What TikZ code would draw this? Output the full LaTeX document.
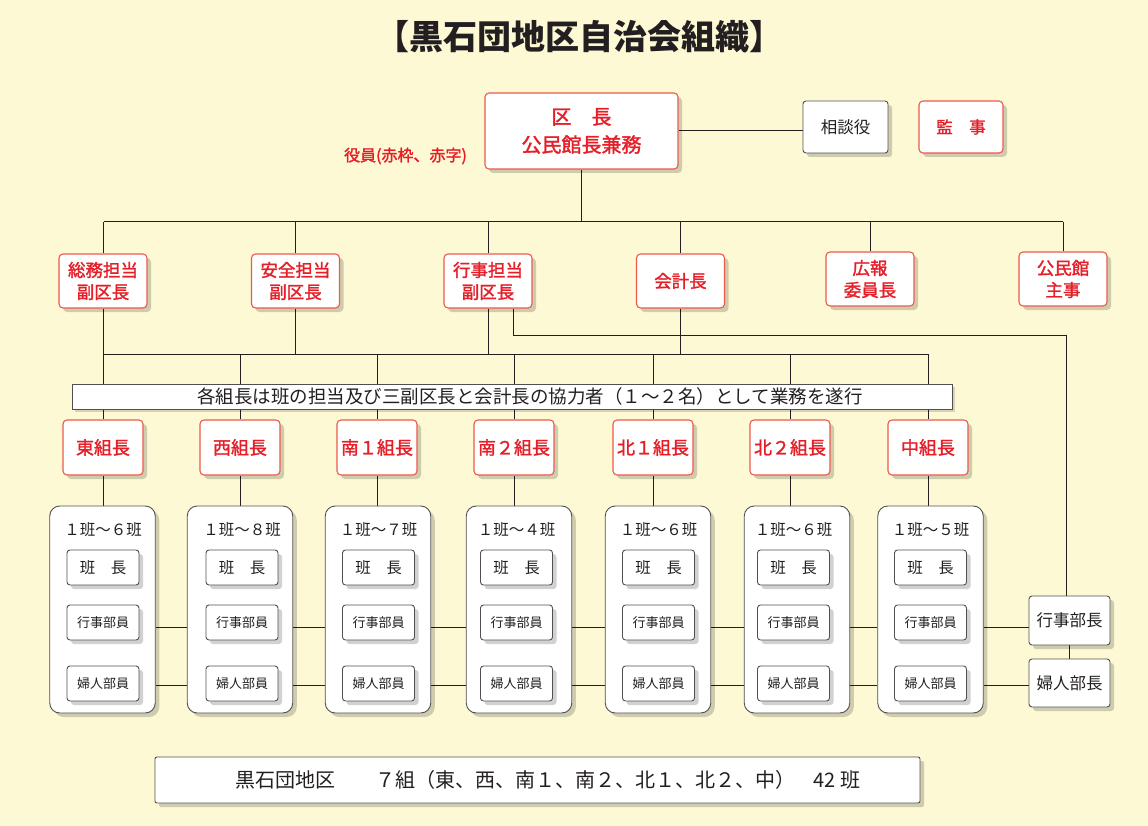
\documentclass[tikz,border=0pt]{standalone}
\usepackage{fontspec}
\setmainfont{Noto Sans CJK JP}
\newfontfamily\redjp[FakeBold=1.6]{Noto Sans CJK JP}
\usetikzlibrary{shadows,calc}
\definecolor{bgyellow}{RGB}{253,249,213}
\definecolor{txtred}{RGB}{230,30,40}
\definecolor{boxred}{RGB}{236,90,75}
\definecolor{boxgray}{RGB}{80,80,80}
\definecolor{txtdark}{RGB}{35,31,32}
\pgfdeclarelayer{bg}
\pgfdeclarelayer{lines}
\pgfsetlayers{bg,lines,main}
\tikzset{
  shad/.style={drop shadow={shadow xshift=4pt,shadow yshift=-4pt,fill=black,opacity=0.18}},
  redbox/.style={draw=boxred,line width=1.1pt,fill=white,rounded corners=4pt,text=txtred,
    align=center,inner sep=0pt,shad},
  graybox/.style={draw=boxgray,line width=0.9pt,fill=white,rounded corners=3pt,text=txtdark,
    align=center,inner sep=0pt,shad},
  groupbox/.style={draw=boxgray,line width=0.9pt,fill=white,rounded corners=10pt,inner sep=0pt,shad},
  conn/.style={draw=txtdark,line width=1pt},
  sz/.style n args={2}{minimum width=#1pt,minimum height=#2pt},
  fs/.style={font=\fontsize{#1pt}{#1pt}\selectfont},
  rfs/.style={font=\redjp\fontsize{#1pt}{#1pt}\selectfont},
}
\begin{document}
\begin{tikzpicture}[x=1pt,y=-1pt]
\begin{pgfonlayer}{bg}
\fill[bgyellow] (0,0) rectangle (1148,826);
\end{pgfonlayer}
\useasboundingbox (0,0) rectangle (1148,826);

% title
\node[text=txtdark,font=\fontsize{34pt}{34pt}\selectfont\bfseries] (title) at (579,37) {【黒石団地区自治会組織】};

% top
\node[redbox,sz={193}{76},font=\redjp\fontsize{20pt}{28pt}\selectfont] (kucho) at (581.5,131) {区　長\\公民館長兼務};
\node[graybox,sz={85}{52},fs=16.5] (soudan) at (845.5,127) {相談役};
\node[redbox,sz={84}{52},rfs=16.5] (kanji) at (961,127) {監　事};
\node[text=txtred,rfs=16,inner sep=0pt] (yakuin) at (405.5,156) {役員(赤枠、赤字)};

% second row
\tikzset{vice/.style={redbox,sz={88}{54},font=\redjp\fontsize{17.5pt}{22pt}\selectfont}}
\node[vice] (soumu) at (103,281) {総務担当\\副区長};
\node[vice] (anzen) at (295.5,281) {安全担当\\副区長};
\node[vice] (gyouji) at (488,281) {行事担当\\副区長};
\node[vice] (kaikei) at (680.5,281) {会計長};
\node[vice] (kouhou) at (870,279) {広報\\委員長};
\node[vice] (kouminkan) at (1063,279) {公民館\\主事};

\coordinate (busL) at (104,222);
\coordinate (busTwoL) at (103,354);
\coordinate (busTwoR) at (928,354);
\coordinate (branch) at (1066,335);

% note bar
\node[draw=boxgray,line width=0.9pt,fill=white,sz={880}{25},inner sep=0pt,text=txtdark,fs=18.5,
  drop shadow={shadow xshift=3pt,shadow yshift=-3pt,fill=black,opacity=0.15}] (note) at (512,396.5)
  {\hspace*{36pt}各組長は班の担当及び三副区長と会計長の協力者（１～２名）として業務を遂行};

% group leaders
\tikzset{leader/.style={redbox,sz={80}{55},rfs=18}}
\node[leader] (l1) at (103,447.5) {東組長};
\node[leader] (l2) at (240,447.5) {西組長};
\node[leader] (l3) at (377,447.5) {南１組長};
\node[leader] (l4) at (514,447.5) {南２組長};
\node[leader] (l5) at (653,447.5) {北１組長};
\node[leader] (l6) at (790,447.5) {北２組長};
\node[leader] (l7) at (928,447.5) {中組長};

% groups
\tikzset{inner/.style={graybox,sz={72}{35}},
  grp/.style={groupbox,sz={105.5}{207}}}
\foreach \i/\gx/\ix/\rng in {1/102.5/103/１班～６班,2/240/242/１班～８班,3/378/378.5/１班～７班,
  4/519/516.5/１班～４班,5/658/658.5/１班～６班,6/797/793.5/１班～６班,7/930.5/930.5/１班～５班}{
  \node[grp] (g\i) at (\gx,609.5) {};
  \node[text=txtdark,fs=15.5,inner sep=0pt] (gt\i) at (\ix,530) {\rng};
  \node[inner,fs=15.5] (hc\i) at (\ix,567.5) {班　長};
  \node[inner,fs=13] (gb\i) at (\ix,622.5) {行事部員};
  \node[inner,fs=13] (fb\i) at (\ix,683.5) {婦人部員};
}

\node[graybox,sz={81}{49},fs=16.5] (bucho) at (1069.5,620.5) {行事部長};
\node[graybox,sz={81}{48},fs=16.5] (fujin) at (1069.5,683) {婦人部長};

% bottom
\node[graybox,rounded corners=2pt,sz={765}{46},fs=20] (summary) at (537.5,780)
  {\hspace*{21pt}黒石団地区　　７組（東、西、南１、南２、北１、北２、中）\hspace{18pt}42\hspace{5pt}班};

% connectors
\begin{pgfonlayer}{lines}
\draw[conn] (kucho.east) -- (kucho.east -| soudan.west);
\draw[conn] (kucho.south) -- (kucho.south |- busL);
\draw[conn] (busL) -- (busL -| kouminkan.north);
\foreach \n in {soumu,anzen,gyouji,kaikei,kouhou,kouminkan}{
  \draw[conn] (\n.north) -- (\n.north |- busL);
}
\draw[conn] (busTwoL) -- (busTwoR);
\foreach \n in {soumu,anzen,gyouji,kaikei}{
  \draw[conn] (\n.south) -- (\n.south |- busTwoL);
}
\foreach \i in {1,...,7}{
  \draw[conn] (l\i.north) -- (l\i.north |- busTwoL);
  \draw[conn] (l\i.south) -- (l\i.south |- g\i.north);
}
\draw[conn] ([xshift=25pt]gyouji.south) |- (branch) -- (branch |- bucho.north);
\foreach \i/\j in {1/2,2/3,3/4,4/5,5/6,6/7}{
  \draw[conn] ([yshift=-17.5pt]g\i.east) -- ([yshift=-17.5pt]g\j.west);
  \draw[conn] ([yshift=-75.5pt]g\i.east) -- ([yshift=-75.5pt]g\j.west);
}
\draw[conn] ([yshift=-17.5pt]g7.east) -- ([yshift=-17.5pt]g7.east -| bucho.west);
\draw[conn] ([yshift=-75.5pt]g7.east) -- ([yshift=-75.5pt]g7.east -| fujin.west);
\draw[conn] (bucho.south) -- (fujin.north);
\end{pgfonlayer}
\end{tikzpicture}
\end{document}
